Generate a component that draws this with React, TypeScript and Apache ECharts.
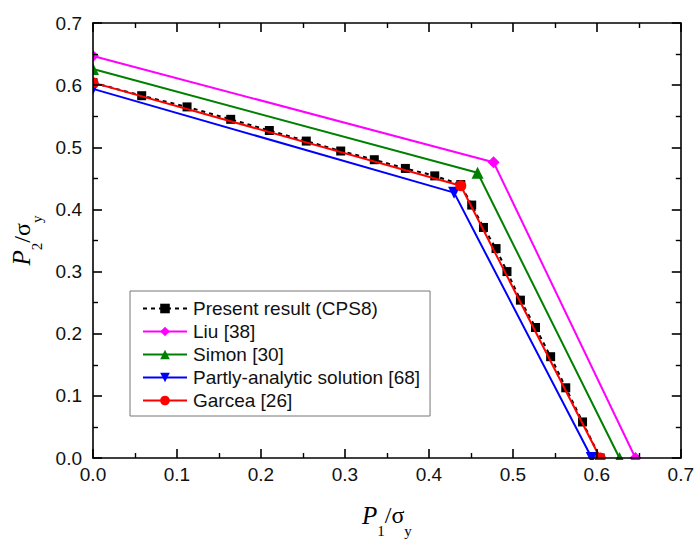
import React, { useEffect, useRef } from "react";
import * as echarts from "echarts";

// Present result (CPS8) – computed interaction curve
const presentX = [0, 0.058, 0.112, 0.164, 0.21, 0.254, 0.295, 0.335, 0.372, 0.407, 0.438, 0.451, 0.465, 0.48, 0.493, 0.509, 0.527, 0.545, 0.563, 0.583, 0.604];
const presentY = [0.604, 0.583, 0.565, 0.545, 0.527, 0.51, 0.494, 0.48, 0.466, 0.454, 0.44, 0.407, 0.371, 0.337, 0.3, 0.254, 0.21, 0.163, 0.113, 0.058, 0];

// Reference solutions (three-point piecewise-linear curves)
const liuX = [0, 0.477, 0.646];
const liuY = [0.647, 0.476, 0];
const simonX = [0, 0.458, 0.627];
const simonY = [0.626, 0.459, 0];
const partlyX = [0, 0.43, 0.594];
const partlyY = [0.594, 0.427, 0];
const garceaX = [0, 0.438, 0.604];
const garceaY = [0.604, 0.438, 0];

const xTicks = ["0.0", "0.1", "0.2", "0.3", "0.4", "0.5", "0.6", "0.7"];

const pairs = (xs: number[], ys: number[]) => xs.map((x, i) => [x, ys[i]]);

const W = 697;
const H = 543;
const GRID = { left: 93, right: 15, top: 23, bottom: 83 };

const labelFont = "'Liberation Sans', Arial, sans-serif";
const serif = "'Liberation Serif', 'Times New Roman', serif";

const titleRich = {
  p: { fontFamily: serif, fontStyle: "italic", fontSize: 25, color: "#000", lineHeight: 30 },
  sub: { fontFamily: serif, fontSize: 15, color: "#000", lineHeight: 30, verticalAlign: "bottom", padding: [0, 0, -8, 0] },
  s: { fontFamily: serif, fontSize: 24, color: "#000", lineHeight: 30 },
};

function makeAxis(kind: "x" | "y", position: string, showLabels: boolean) {
  return {
    type: "value",
    min: 0,
    max: 0.7,
    interval: 0.1,
    position,
    z: 10,
    axisLine: { show: true, onZero: false, lineStyle: { color: "#000", width: 1.6 } },
    axisTick: { show: true, inside: true, length: 9, lineStyle: { color: "#000", width: 1.6 } },
    minorTick: { show: true, splitNumber: 2, length: 5, lineStyle: { color: "#000", width: 1.4 } },
    splitLine: { show: false },
    axisLabel: {
      show: showLabels,
      fontFamily: labelFont,
      fontSize: 19,
      color: "#111",
      margin: kind === "x" ? 7 : 11,
      formatter: (v: number) => xTicks[Math.round(v * 10)] ?? v.toFixed(1),
    },
  };
}

export default function App() {
  const ref = useRef<HTMLDivElement>(null);

  useEffect(() => {
    document.body.style.margin = "0";
    if (!ref.current) return;
    const chart = echarts.init(ref.current, undefined, { renderer: "svg" });

    const xBottom: any = makeAxis("x", "bottom", true);
    xBottom.name = "{p|P}{sub|1}{s|/σ}{sub|y}";
    xBottom.nameLocation = "middle";
    xBottom.nameGap = 42;
    xBottom.nameTextStyle = { rich: titleRich };

    const yLeft: any = makeAxis("y", "left", true);
    yLeft.name = "{p|P}{sub|2}{s|/σ}{sub|y}";
    yLeft.nameLocation = "middle";
    yLeft.nameRotate = 90;
    yLeft.nameGap = 49;
    yLeft.nameTextStyle = { rich: titleRich };

    const lineSeries = (name: string, data: number[][], color: string, symbol: string, size: number, z: number, extra: any = {}) => ({
      name,
      type: "line",
      data,
      z,
      symbol,
      symbolSize: size,
      showSymbol: true,
      clip: false,
      itemStyle: { color },
      lineStyle: { color, width: 2 },
      ...extra,
    });

    // white masks outside the plotting box, so end markers sitting on the axes are cut in half
    const mask = (x: number, y: number, w: number, h: number) => ({
      type: "rect",
      z: 6,
      silent: true,
      shape: { x, y, width: w, height: h },
      style: { fill: "#fff" },
    });

    chart.setOption({
      animation: false,
      backgroundColor: "#fff",
      grid: { ...GRID, containLabel: false },
      xAxis: [xBottom, makeAxis("x", "top", false)],
      yAxis: [yLeft, makeAxis("y", "right", false)],
      graphic: [
        mask(0, 0, GRID.left, H),
        mask(0, H - GRID.bottom, W, GRID.bottom),
        mask(W - GRID.right, 0, GRID.right, H),
        mask(0, 0, W, GRID.top),
      ],
      legend: {
        orient: "vertical",
        left: 130,
        top: 291,
        z: 20,
        itemWidth: 44,
        itemHeight: 12,
        itemGap: 4,
        padding: [8, 10, 6, 12],
        borderColor: "#777",
        borderWidth: 1,
        backgroundColor: "#fff",
        textStyle: { fontFamily: labelFont, fontSize: 19, color: "#111", padding: [0, 0, 0, 1] },
        data: ["Present result (CPS8)", "Liu [38]", "Simon [30]", "Partly-analytic solution [68]", "Garcea [26]"],
      },
      series: [
        lineSeries("Liu [38]", pairs(liuX, liuY), "#ff00ff", "diamond", 12, 3),
        lineSeries("Simon [30]", pairs(simonX, simonY), "#008000", "triangle", 12, 3),
        lineSeries("Partly-analytic solution [68]", pairs(partlyX, partlyY), "#0000ff", "triangle", 12, 3, { symbolRotate: 180 }),
        lineSeries("Present result (CPS8)", pairs(presentX, presentY), "#000000", "rect", 9, 4, {
          lineStyle: { color: "#000", width: 2, type: [4, 4] },
        }),
        lineSeries("Garcea [26]", pairs(garceaX, garceaY), "#ff0000", "circle", 11, 5),
      ],
    });

    return () => chart.dispose();
  }, []);

  return <div ref={ref} style={{ width: W, height: H }} />;
}
